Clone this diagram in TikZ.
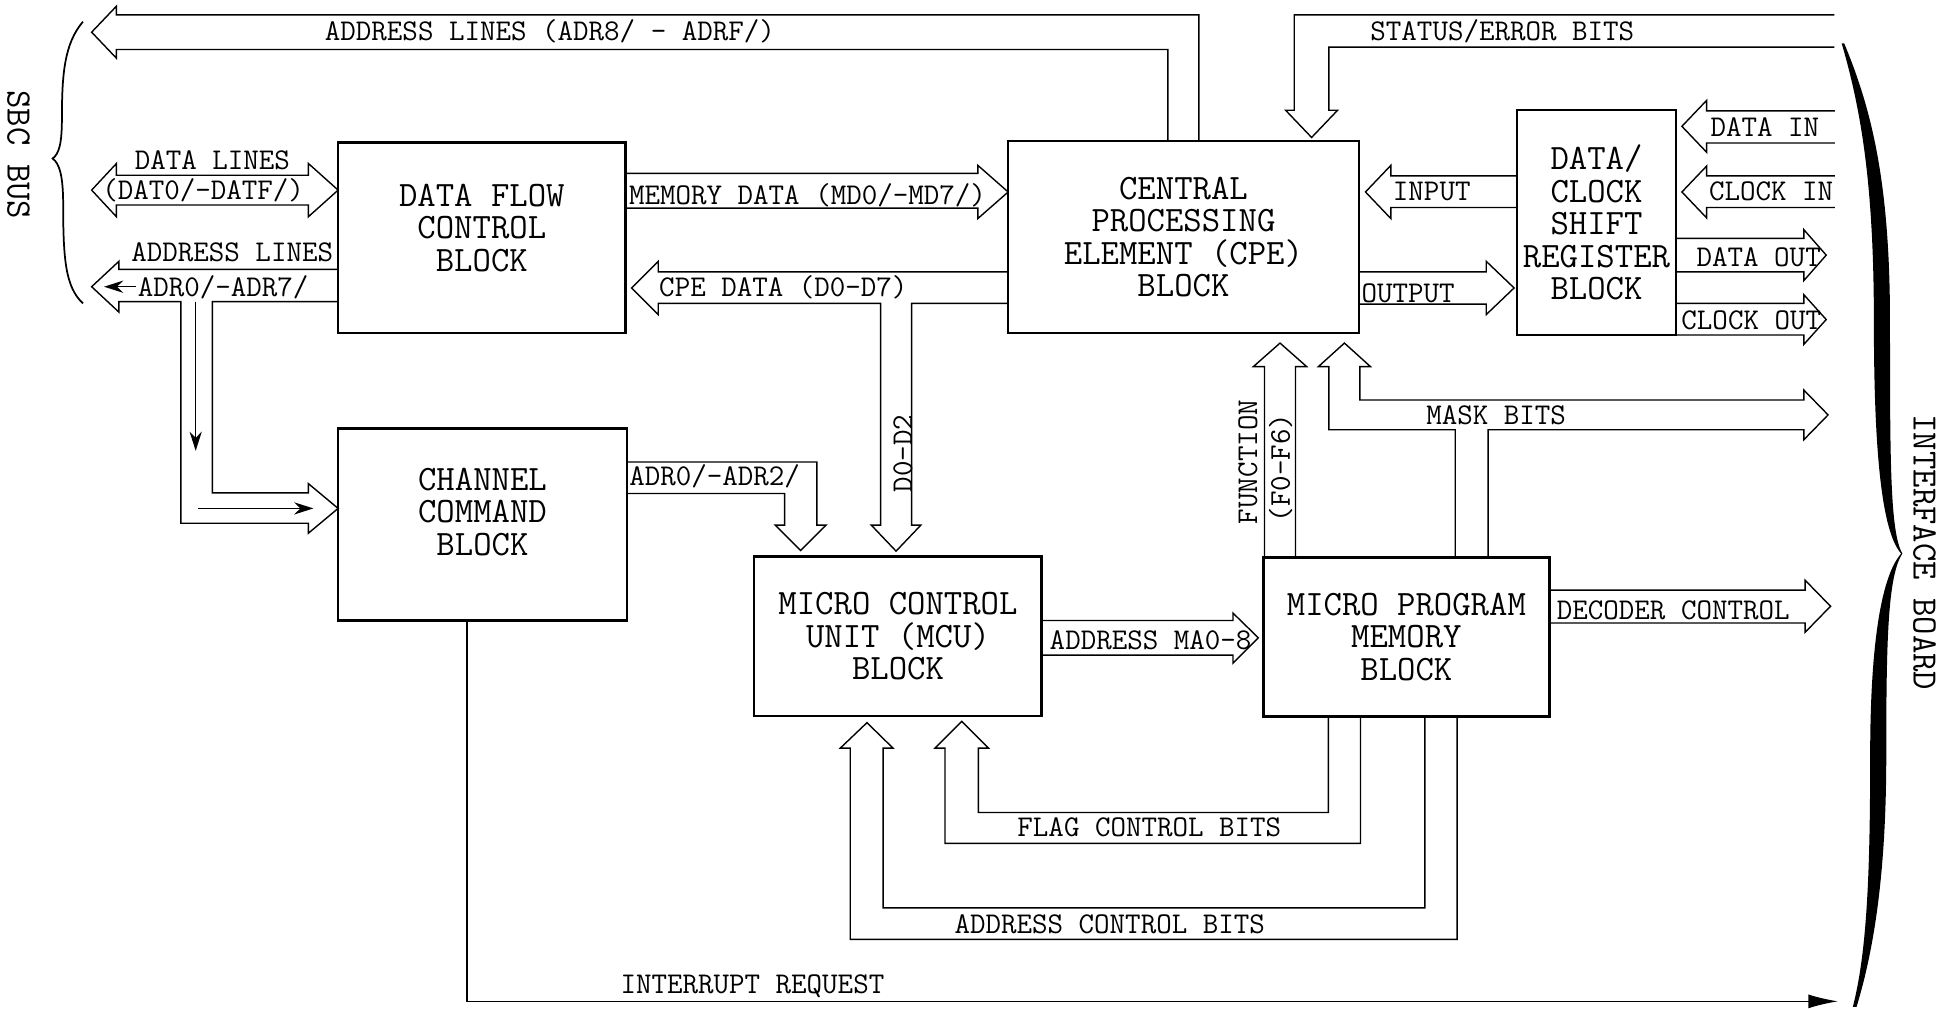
\documentclass[tikz,border=0pt]{standalone}
\usepackage{fontspec}
\usetikzlibrary{positioning,arrows.meta}
\newcommand{\blockfont}{\ttfamily\fontsize{20.5}{18.7}\selectfont}
\newcommand{\busfont}{\ttfamily\fontsize{17.3}{18}\selectfont}

\begin{document}
\begin{tikzpicture}[
    x=0.025cm, y=-0.025cm,
    block/.style={rectangle, draw, line width=1.4pt, anchor=north west,
                  outer sep=0pt, inner sep=0pt, align=center, font=\blockfont},
    bus/.style={line width=0.8pt},
    buslabel/.style={anchor=base, inner sep=0pt, font=\busfont},
    sidelabel/.style={inner sep=0pt, font=\blockfont, rotate=-90},
    uplabel/.style={inner sep=0pt, font=\busfont, rotate=90},
    wire/.style={line width=0.8pt, -{Stealth[length=11pt, width=7pt]}},
    irq/.style={line width=0.8pt, -{Latex[length=17pt, width=8pt]}}
]
\useasboundingbox (0,0) rectangle (1568,814);

\node[block, minimum width=5.80cm, minimum height=3.85cm, text depth=0.42cm] (dfc) at (273,115)
      {DATA FLOW\\CONTROL\\BLOCK};
\node[block, minimum width=7.075cm, minimum height=3.875cm] (cpe) at (814,114)
      {CENTRAL\\PROCESSING\\ELEMENT (CPE)\\BLOCK};
\node[block, minimum width=3.20cm, minimum height=4.5375cm] (sr) at (1225,89)
      {DATA/\\CLOCK\\SHIFT\\REGISTER\\BLOCK};
\node[block, minimum width=5.825cm, minimum height=3.875cm, text depth=0.52cm] (ccb) at (273,346)
      {CHANNEL\\COMMAND\\BLOCK};
\node[block, minimum width=5.80cm, minimum height=3.2125cm] (mcu) at (609,449.5)
      {MICRO CONTROL\\UNIT (MCU)\\BLOCK};
\node[block, minimum width=5.775cm, minimum height=3.2125cm] (mpm) at (1020,450)
      {MICRO PROGRAM\\MEMORY\\BLOCK};

\draw[bus] (cpe.north -| 968,0) -- (968,12) -- (94,12) -- (94,5) -- (74,26) -- (94,47)
      -- (94,40) -- (943,40) -- (cpe.north -| 943,0);
\node[buslabel] (adrhi) at (444,33) {ADDRESS LINES (ADR8/ - ADRF/)};

\draw[bus] (1481,12) -- (1045,12) -- (1045,89) -- (1038,89) -- (1059,111) -- (1080,89)
      -- (1073,89) -- (1073,38) -- (1481,38);
\node[buslabel] (status) at (1213,33) {STATUS/ERROR BITS};

\draw[bus] (94,141.5) -- (249,141.5) -- (249,132) -- (dfc.west |- 0,153.5) -- (249,175)
      -- (249,165.5) -- (94,165.5) -- (94,175) -- (74,153.5) -- (94,132) -- cycle;
\node[buslabel] (datl) at (171.5,137) {DATA LINES};
\node[buslabel] (datn) at (164,161) {(DAT0/-DATF/)};

\draw[bus] (dfc.west |- 0,217.5) -- (96,217.5) -- (96,211) -- (74,231.5) -- (96,252)
      -- (96,243.5) -- (146,243.5) -- (146,422.5) -- (249,422.5) -- (249,430.5)
      -- (ccb.west |- 0,410.5) -- (249,390.5) -- (249,398) -- (171.5,398)
      -- (171.5,243.5) -- (dfc.west |- 0,243.5);
\draw[wire] (110,231.5) -- (84,231.5);
\draw[wire] (158,243.5) -- (158,364);
\draw[wire] (160,410.5) -- (253,410.5);
\node[buslabel] (adrl) at (187.5,211) {ADDRESS LINES};
\node[buslabel, anchor=base west] (adrlo) at (111,239) {ADR0/-ADR7/};

\draw[bus] (dfc.east |- 0,140) -- (789.5,140) -- (789.5,133.5) -- (cpe.west |- 0,155)
      -- (789.5,176.5) -- (789.5,168) -- (dfc.east |- 0,168);
\node[buslabel] (memd) at (652,165) {MEMORY DATA (MD0/-MD7/)};

\draw[bus] (cpe.west |- 0,219.5) -- (531.5,219.5) -- (531.5,211) -- (510,232.5)
      -- (531.5,254) -- (531.5,245) -- (711,245) -- (711,424) -- (703.5,424)
      -- (723.5,445) -- (743.5,424) -- (736,424) -- (736,245) -- (cpe.west |- 0,245);
\node[buslabel] (cped) at (632.5,239) {CPE DATA (D0-D7)};
\node[uplabel] (dlow) at (729,366) {D0-D2};

\draw[bus] (sr.west |- 0,142) -- (1123,142) -- (1123,133.5) -- (1102.5,155)
      -- (1123,176.5) -- (1123,167.5) -- (sr.west |- 0,167.5);
\node[buslabel] (inp) at (1156,162) {INPUT};

\draw[bus] (cpe.east |- 0,219.5) -- (1200,219.5) -- (1200,211) -- (1222.5,232.5)
      -- (1200,254) -- (1200,245.5) -- (cpe.east |- 0,245.5);
\node[buslabel] (outp) at (1137,244) {OUTPUT};

\draw[bus] (1481.5,89.5) -- (1378,89.5) -- (1378,81) -- (1358,102) -- (1378,123)
      -- (1378,115.5) -- (1481.5,115.5);
\node[buslabel] (din) at (1425,110) {DATA IN};
\draw[bus] (1481.5,142) -- (1378,142) -- (1378,134) -- (1358,155) -- (1378,176)
      -- (1378,167.5) -- (1481.5,167.5);
\node[buslabel] (cin) at (1430,162) {CLOCK IN};
\draw[bus] (sr.east |- 0,192.5) -- (1456.5,192.5) -- (1456.5,185.5) -- (1474.5,206)
      -- (1456.5,226.5) -- (1456.5,219.5) -- (sr.east |- 0,219.5);
\node[buslabel] (dout) at (1420,215) {DATA OUT};
\draw[bus] (sr.east |- 0,245) -- (1456.5,245) -- (1456.5,238) -- (1474.5,258)
      -- (1456.5,278) -- (1456.5,270.5) -- (sr.east |- 0,270.5);
\node[buslabel] (cout) at (1414,266) {CLOCK OUT};

\draw[bus] (mpm.north -| 1021,0) -- (1021,296) -- (1012,296) -- (1033.5,277)
      -- (1055,296) -- (1046,296) -- (mpm.north -| 1046,0);
\node[uplabel] (func) at (1007.5,373) {FUNCTION};
\node[uplabel] (funcn) at (1034,378) {(F0-F6)};

\draw[bus] (mpm.north -| 1175,0) -- (1175,347) -- (1073,347) -- (1073,296) -- (1064.5,296)
      -- (1085.5,277) -- (1106.5,296) -- (1098,296) -- (1098,323) -- (1456.5,323)
      -- (1456.5,315) -- (1476,335) -- (1456.5,355) -- (1456.5,347) -- (1201.5,347)
      -- (mpm.north -| 1201.5,0);
\node[buslabel] (mask) at (1208,343) {MASK BITS};

\draw[bus] (mpm.east |- 0,476.5) -- (1457.5,476.5) -- (1457.5,468.5) -- (1478,489.5)
      -- (1457.5,510.5) -- (1457.5,503) -- (mpm.east |- 0,503);
\node[buslabel] (dec) at (1351,500.5) {DECODER CONTROL};

\draw[bus] (mcu.east |- 0,501) -- (995.5,501) -- (995.5,495) -- (1016,515)
      -- (995.5,535.5) -- (995.5,529) -- (mcu.east |- 0,529);
\node[buslabel] (ma) at (929,524.5) {ADDRESS MA0-8};

\draw[bus] (ccb.east |- 0,373) -- (659.5,373) -- (659.5,424) -- (667,424) -- (646.5,444.5)
      -- (626,424) -- (633.5,424) -- (633.5,398.5) -- (ccb.east |- 0,398.5);
\node[buslabel] (adrc) at (577,392) {ADR0/-ADR2/};

\draw[bus] (mpm.south -| 1072.5,0) -- (1072.5,656) -- (790,656) -- (790,604) -- (798,604)
      -- (776.5,582.5) -- (755,604) -- (763,604) -- (763,681) -- (1098.5,681)
      -- (mpm.south -| 1098.5,0);
\node[buslabel] (flag) at (928,675.5) {FLAG CONTROL BITS};

\draw[bus] (mpm.south -| 1150.5,0) -- (1150.5,733) -- (713,733) -- (713,604) -- (721,604)
      -- (700,583.5) -- (678.5,604) -- (686.5,604) -- (686.5,758.5) -- (1176.5,758.5)
      -- (mpm.south -| 1176.5,0);
\node[buslabel] (actl) at (896,753.5) {ADDRESS CONTROL BITS};

\draw[irq] (ccb.south -| 377,0) -- (377,808.5) -- (1484,808.5);
\node[buslabel] (intr) at (607.5,802) {INTERRUPT REQUEST};

\draw[line width=1pt] (67,17.5) .. controls (52,35) and (50,60) .. (50,95)
      .. controls (50,115) and (48,124) .. (42.5,128) .. controls (48,132) and (51,142) .. (51,165)
      .. controls (51,210) and (53,232) .. (67,245);
\node[sidelabel] (sbc) at (15,125) {SBC BUS};

\fill (1487,35) .. controls (1503,90) and (1513,150) .. (1513,260)
      .. controls (1513,370) and (1520,430) .. (1535,447)
      .. controls (1519,465) and (1510,520) .. (1510,610)
      .. controls (1510,710) and (1507,770) .. (1496,813) -- (1499,813)
      .. controls (1512,770) and (1523,710) .. (1523,610)
      .. controls (1523,520) and (1524,465) .. (1536,447)
      .. controls (1526,430) and (1526,370) .. (1526,260)
      .. controls (1526,150) and (1512,90) .. (1489,35) -- cycle;
\node[sidelabel] (ifb) at (1554,446) {INTERFACE BOARD};

\end{tikzpicture}
\end{document}
